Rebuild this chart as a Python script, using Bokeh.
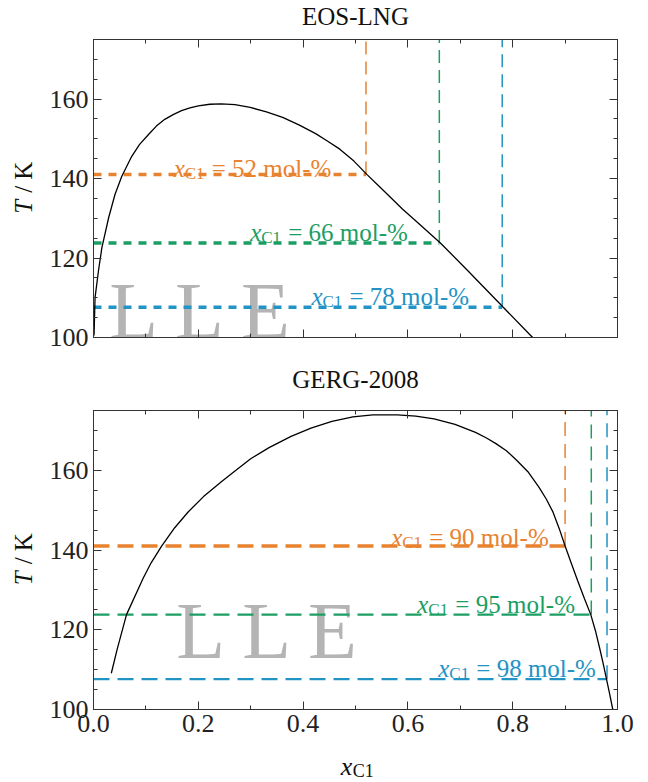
import math
from bokeh.plotting import figure
from bokeh.models import (Range1d, LinearAxis, SingleIntervalTicker, PrintfTickFormatter)
from bokeh.layouts import column, row
from bokeh.embed import file_html
from bokeh.resources import INLINE
from bokeh.core.properties import value

# ---------------- data ----------------
titles = ["EOS-LNG", "GERG-2008"]

# phase boundary (LLE) curves, x_C1 vs T / K
eos_x = [0.001, 0.003, 0.0095, 0.016, 0.029, 0.041, 0.054, 0.073, 0.088, 0.105, 0.12, 0.136,
         0.152, 0.168, 0.184, 0.20, 0.222, 0.244, 0.27, 0.299, 0.33, 0.361, 0.392, 0.424,
         0.447, 0.47, 0.497, 0.522, 0.547, 0.572, 0.59, 0.611, 0.662, 0.713, 0.782, 0.838]
eos_T = [100.5, 110.1, 116.8, 122.6, 130.2, 136.0, 140.6, 145.6, 148.6, 151.1, 153.2, 154.9,
         156.1, 157.1, 157.8, 158.3, 158.7, 158.8, 158.6, 157.9, 156.8, 155.4, 153.5, 151.3,
         149.4, 147.4, 144.4, 141.0, 137.8, 134.6, 132.3, 129.8, 123.8, 117.0, 107.6, 100.0]

gerg_x = [0.034, 0.045, 0.063, 0.095, 0.11, 0.13, 0.155, 0.181, 0.21, 0.244, 0.27, 0.30,
          0.335, 0.377, 0.415, 0.455, 0.495, 0.533, 0.58, 0.615, 0.65, 0.69, 0.729, 0.75,
          0.768, 0.788, 0.807, 0.83, 0.85, 0.864, 0.877, 0.889, 0.90, 0.912, 0.924, 0.937,
          0.949, 0.958, 0.967, 0.973, 0.979, 0.985, 0.991]
gerg_T = [109.1, 115.0, 123.8, 133.0, 136.8, 141.0, 145.6, 149.6, 153.4, 157.1, 159.8, 162.9,
          165.7, 168.5, 170.6, 172.3, 173.4, 173.9, 173.9, 173.6, 172.9, 171.5, 169.5, 168.1,
          166.7, 164.9, 162.6, 159.5, 155.8, 152.8, 149.5, 145.3, 141.0, 136.6, 132.3, 127.8,
          123.8, 119.7, 114.8, 111.3, 107.6, 103.9, 100.0]

# isotherms (T / K) and the overall compositions (mol fraction) at which they end
iso_T = [141.0, 123.8, 107.6]
eos_comp = [0.52, 0.66, 0.78]
gerg_comp = [0.90, 0.95, 0.98]
eos_labels = ["52", "66", "78"]
gerg_labels = ["90", "95", "98"]

colors = ["#E8822F", "#1B9E63", "#2193C4"]

# ---------------- styling ----------------
FONT = "Liberation Serif"
X_RANGE = (0.0, 1.0)
Y_RANGE = (100.0, 175.0)
YLAB_W = 46
MAIN_W = 594


def style_axes(p):
    p.xgrid.visible = False
    p.ygrid.visible = False
    p.outline_line_color = "#333333"
    p.background_fill_color = "white"
    p.border_fill_color = "white"
    for ax in p.xaxis:
        ax.ticker = SingleIntervalTicker(interval=0.2, num_minor_ticks=2)
        ax.formatter = PrintfTickFormatter(format="%.1f")
    for ax in p.yaxis:
        ax.ticker = SingleIntervalTicker(interval=20, num_minor_ticks=4)
    for ax in p.xaxis + p.yaxis:
        ax.major_tick_in = 8
        ax.major_tick_out = 0
        ax.minor_tick_in = 4
        ax.minor_tick_out = 0
        ax.axis_line_color = "#333333"
        ax.major_tick_line_color = "#333333"
        ax.minor_tick_line_color = "#333333"
        ax.major_label_text_font = FONT
        ax.major_label_text_font_size = "26px"
        ax.major_label_text_color = "#222222"
        ax.major_label_standoff = 5


def make_fig(title, title_pad, cx, cT, comps, labels, height, btop, bbottom,
             label_pos, lle_pos, hdash, hwidths, vdash, show_x):
    p = figure(width=MAIN_W, height=height, output_backend="svg", toolbar_location=None,
               x_range=Range1d(*X_RANGE), y_range=Range1d(*Y_RANGE),
               min_border_left=46, min_border_right=23,
               min_border_top=btop, min_border_bottom=bbottom)
    p.title.text = title
    p.title.text_font = FONT
    p.title.text_font_size = "25px"
    p.title.text_font_style = "normal"
    p.title.align = "center"
    p.title.text_color = "#111111"
    p.title.standoff = 0
    # mirror axes (ticks only)
    top_ax = LinearAxis()
    right_ax = LinearAxis()
    p.add_layout(top_ax, "above")
    p.add_layout(right_ax, "right")
    style_axes(p)
    for ax in (top_ax, right_ax):
        ax.major_label_text_color = None
        ax.major_label_standoff = 0
    if not show_x:
        p.below[0].major_label_text_color = None
        p.below[0].major_label_standoff = 0
    # invisible spacer axis between frame and title
    pad_ax = LinearAxis(axis_line_color=None, major_tick_line_color=None,
                        minor_tick_line_color=None, major_label_text_color=None,
                        major_tick_in=0, major_tick_out=title_pad, minor_tick_in=0,
                        minor_tick_out=0, major_label_standoff=0)
    p.add_layout(pad_ax, "above")

    # LLE watermark
    p.text(x=[lle_pos[0]], y=[lle_pos[1]], text=["L L E"], text_font=value(FONT),
           text_font_size="80px", text_color="#b4b4b4", text_baseline="alphabetic",
           text_align="left")

    # horizontal isotherms
    for T, c, col, w in zip(iso_T, comps, colors, hwidths):
        p.line(x=[0.0, c], y=[T, T], line_color=col, line_width=w, line_dash=hdash)
    # vertical composition lines
    for T, c, col in zip(iso_T, comps, colors):
        p.line(x=[c, c], y=[T, Y_RANGE[1]], line_color=col, line_width=1.5, line_dash=vdash)

    # phase boundary
    p.line(x=cx, y=cT, line_color="black", line_width=1.3)

    # composition labels: italic x, subscript C1, rest
    for (lx, lT), lab, col in zip(label_pos, labels, colors):
        p.text(x=[lx], y=[lT], text=["x"], text_font=value(FONT), text_font_style="italic",
               text_font_size="25px", text_color=col, text_baseline="alphabetic")
        p.text(x=[lx], y=[lT], text=["C1"], text_font=value(FONT), text_font_size="17px",
               text_color=col, text_baseline="alphabetic", x_offset=11, y_offset=5)
        p.text(x=[lx], y=[lT], text=["= " + lab + " mol-%"], text_font=value(FONT),
               text_font_size="25px", text_color=col, text_baseline="alphabetic", x_offset=38)
    return p


def make_ylabel(height, btop, bbottom):
    q = figure(width=YLAB_W, height=height, output_backend="svg", toolbar_location=None,
               x_range=Range1d(0, 1), y_range=Range1d(*Y_RANGE),
               x_axis_type=None, y_axis_type=None,
               min_border_left=0, min_border_right=0,
               min_border_top=btop, min_border_bottom=bbottom)
    q.outline_line_color = None
    q.xgrid.visible = False
    q.ygrid.visible = False
    ymid = 135.4
    q.text(x=[0.5], y=[ymid], text=["T"], text_font=value(FONT), text_font_style="italic",
           text_font_size="25px", angle=math.pi / 2, text_align="right",
           text_baseline="middle", text_color="#111111", y_offset=3)
    q.text(x=[0.5], y=[ymid], text=["/ K"], text_font=value(FONT),
           text_font_size="25px", angle=math.pi / 2, text_align="left",
           text_baseline="middle", text_color="#111111", y_offset=-4)
    return q


H1, T1, B1 = 360, 38, 23
H2, T2, B2 = 387, 50, 38
XL_H = 33

p1 = make_fig(titles[0], 10, eos_x, eos_T, eos_comp, eos_labels, H1, T1, B1,
              label_pos=[(0.153, 142.6), (0.299, 126.4), (0.416, 110.4)],
              lle_pos=(0.030, 106.6),
              hdash="8 7", hwidths=[3.5, 3.5, 3.5], vdash="13 7", show_x=False)
p2 = make_fig(titles[1], 18, gerg_x, gerg_T, gerg_comp, gerg_labels, H2, T2, B2,
              label_pos=[(0.568, 143.2), (0.618, 126.4), (0.658, 110.4)],
              lle_pos=(0.158, 119.75),
              hdash="16 8", hwidths=[3.5, 2.2, 2.2], vdash="14 8", show_x=True)

y1 = make_ylabel(H1, T1, B1)
y2 = make_ylabel(H2, T2, B2)

# x-axis label figure (x_C1), aligned with the main frames
xl = figure(width=YLAB_W + MAIN_W, height=XL_H, output_backend="svg", toolbar_location=None,
            x_range=Range1d(*X_RANGE), y_range=Range1d(0, 1),
            x_axis_type=None, y_axis_type=None,
            min_border_left=YLAB_W + 46, min_border_right=23,
            min_border_top=0, min_border_bottom=0)
xl.outline_line_color = None
xl.xgrid.visible = False
xl.ygrid.visible = False
xl.text(x=[0.473], y=[0.42], text=["x"], text_font=value(FONT), text_font_style="italic",
        text_font_size="26px", text_align="left", text_baseline="alphabetic",
        text_color="#111111")
xl.text(x=[0.473], y=[0.42], text=["C1"], text_font=value(FONT), text_font_size="18px",
        text_align="left", text_baseline="alphabetic", text_color="#111111",
        x_offset=12, y_offset=4)

layout = column(row(y1, p1, spacing=0), row(y2, p2, spacing=0), xl, spacing=0)
open("out.html", "w").write(file_html(layout, INLINE))
